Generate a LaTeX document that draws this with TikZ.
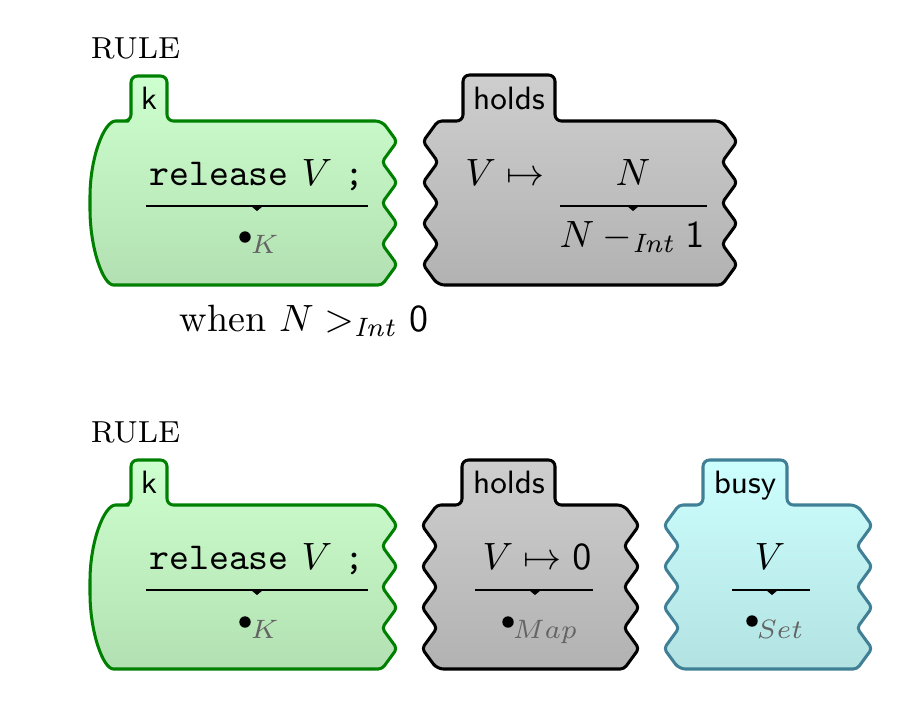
\documentclass[tikz,border=0pt]{standalone}
\usepackage{amsmath}
\definecolor{kgreen}{RGB}{0,128,0}
\definecolor{kteal}{RGB}{64,128,150}
\definecolor{gtop}{RGB}{206,255,206}
\definecolor{gbot}{RGB}{178,224,178}
\definecolor{ytop}{RGB}{206,206,206}
\definecolor{ybot}{RGB}{178,178,178}
\definecolor{ctop}{RGB}{206,255,255}
\definecolor{cbot}{RGB}{178,226,226}
\definecolor{sortgray}{RGB}{100,100,100}
\begin{document}
\begin{tikzpicture}[x=0.263pt,y=-0.263pt,
  cellbase/.style={line width=0.8pt,rounded corners=1.7pt,line join=round},
  kcell/.style={cellbase,draw=kgreen,top color=gtop,bottom color=gbot},
  hcell/.style={cellbase,draw=black,top color=ytop,bottom color=ybot},
  bcell/.style={cellbase,draw=kteal,top color=ctop,bottom color=cbot},
  rjag/.style={insert path={[rounded corners=1pt] -- ++(15,20.5) -- ++(-15,20.5) -- ++(15,20.5) -- ++(-15,20.5) -- ++(15,20.5) -- ++(-15,20.5) -- ++(15,20.5) -- ++(-15,20.5) [rounded corners=1.7pt]}},
  ljag/.style={insert path={[rounded corners=1pt] -- ++(-15,-20.5) -- ++(15,-20.5) -- ++(-15,-20.5) -- ++(15,-20.5) -- ++(-15,-20.5) -- ++(15,-20.5) -- ++(-15,-20.5)}},
  tablabel/.style={anchor=base,font=\sffamily\fontsize{8.5}{10}\selectfont},
  txt/.style={anchor=base},
  lefttxt/.style={anchor=base west,inner sep=0pt},
  rulelabel/.style={lefttxt,font=\fontsize{8}{9.6}\selectfont},
  sortlabel/.style={lefttxt,text=sortgray,font=\fontsize{7}{8}\selectfont},
  rwline/.style={line width=0.4pt},
  rwmark/.style={fill=black},
  kdot/.style={fill=black}
]
\useasboundingbox (0,0) rectangle (908,718);

% ---------------- first rule ----------------
\node[rulelabel] (rule1) at (90,58) {RULE};

% k cell
\path[kcell] (131,76) -- (167,76) -- (167,121) -- (382,121) [rjag]
  -- (120,285) .. controls (103,285) and (90,248) .. (90,203)
  .. controls (90,158) and (104,121) .. (122,121) -- (131,121) -- cycle;
\node[tablabel] (kt1) at (149,109) {k};
\node[txt] (rel1) at (257,185) {\texttt{release}~$V$~\texttt{;}};
\draw[rwline] (146,206) -- (368,206);
\fill[rwmark] (251,206) -- (263,206) -- (257,211) -- cycle;
\fill[kdot] (245,237) circle[radius=1.5pt];
\node[sortlabel] (ks1) at (250,253) {$K$};

% holds cell
\path[hcell] (463,75) -- (555,75) -- (555,121) -- (722,121) [rjag]
  -- (438,285) [ljag] -- (438,121) [rounded corners=1.7pt] -- (463,121) -- cycle;
\node[tablabel] (ht1) at (509,109) {holds};
\node[txt] (vm1) at (505,185) {$V \mapsto$};
\node[txt] (n1) at (633,185) {$N$};
\draw[rwline] (560,206) -- (707,206);
\fill[rwmark] (627,206) -- (639,206) -- (633,211) -- cycle;
\node[txt] (nm1) at (632,247) {$N -_{\mathit{Int}} \mathsf{1}$};

\node[lefttxt] (when1) at (179,331) {when $N >_{\mathit{Int}} \mathsf{0}$};

% ---------------- second rule ----------------
\node[rulelabel] (rule2) at (90,442) {RULE};

% k cell
\path[kcell] (131,460) -- (167,460) -- (167,505) -- (382,505) [rjag]
  -- (120,669) .. controls (103,669) and (90,632) .. (90,587)
  .. controls (90,542) and (104,505) .. (122,505) -- (131,505) -- cycle;
\node[tablabel] (kt2) at (149,493) {k};
\node[txt] (rel2) at (257,569) {\texttt{release}~$V$~\texttt{;}};
\draw[rwline] (146,590) -- (368,590);
\fill[rwmark] (251,590) -- (263,590) -- (257,595) -- cycle;
\fill[kdot] (245,622) circle[radius=1.5pt];
\node[sortlabel] (ks2) at (250,638) {$K$};

% holds cell
\path[hcell] (462,460) -- (555,460) -- (555,505) -- (624,505) [rjag]
  -- (437,669) [ljag] -- (437,505) [rounded corners=1.7pt] -- (462,505) -- cycle;
\node[tablabel] (ht2) at (509,493) {holds};
\node[txt] (vm2) at (537,569) {$V \mapsto \mathsf{0}$};
\draw[rwline] (475,590) -- (593,590);
\fill[rwmark] (529,590) -- (541,590) -- (535,595) -- cycle;
\fill[kdot] (508,622) circle[radius=1.5pt];
\node[sortlabel] (ms2) at (512,638) {$Map$};

% busy cell
\path[bcell] (703,460) -- (787,460) -- (787,505) -- (857,505) [rjag]
  -- (679,669) [ljag] -- (679,505) [rounded corners=1.7pt] -- (703,505) -- cycle;
\node[tablabel] (bt2) at (745,493) {busy};
\node[txt] (v3) at (770,569) {$V$};
\draw[rwline] (732,590) -- (810,590);
\fill[rwmark] (766,590) -- (778,590) -- (772,595) -- cycle;
\fill[kdot] (752,621) circle[radius=1.5pt];
\node[sortlabel] (ss2) at (756,638) {$Set$};
\end{tikzpicture}
\end{document}
